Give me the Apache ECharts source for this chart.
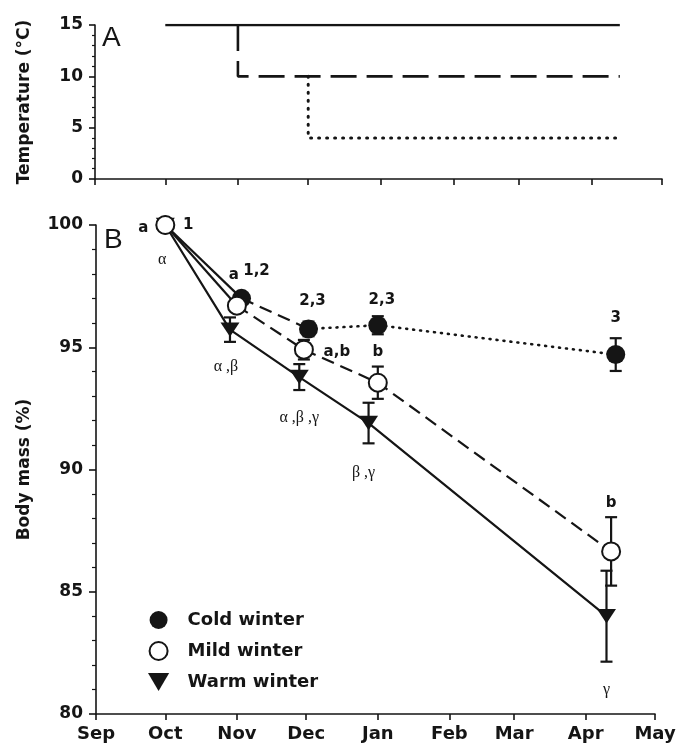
<!DOCTYPE html>
<html>
<head>
<meta charset="utf-8">
<script src="https://cdn.jsdelivr.net/npm/echarts@6/dist/echarts.min.js"></script>
<style>
html,body{margin:0;padding:0;background:#fff;}
#chart{width:691px;height:749px;}
</style>
</head>
<body>
<div id="chart"></div>
<script>
// ---- Axis ticks (days since Sep 1) ----
const monthLabels = ['Sep','Oct','Nov','Dec','Jan','Feb','Mar','Apr','May'];
const monthStartDays = [0, 30, 61, 91, 122, 153, 181, 212, 242];

// ---- Panel A: temperature regimes ----
const tempWarmDays = [30, 224];
const tempWarm = [15, 15];
const tempMildDays = [61, 61, 224];
const tempMild = [15, 10, 10];
const tempColdDays = [91, 91, 224];
const tempCold = [10, 4, 4];

// ---- Panel B: body mass (%) ----
const coldDays = [30, 63, 92, 122, 225];
const coldMass = [100, 97.0, 95.75, 95.9, 94.7];
const coldErr = [0, 0.2, 0.3, 0.37, 0.67];

const mildDays = [30, 61, 90, 122, 223];
const mildMass = [100, 96.7, 94.9, 93.55, 86.65];
const mildErr = [0, 0.2, 0.4, 0.66, 1.4];

const warmDays = [30, 58, 88, 118, 221];
const warmMass = [100, 95.72, 93.78, 91.9, 84.0];
const warmErr = [0, 0.5, 0.53, 0.83, 1.86];

// significance tags
const coldTags = ['1', '1,2', '2,3', '2,3', '3'];
const mildTags = ['a', 'a', 'a,b', 'b', 'b'];
const warmTags = ['\u03b1', '\u03b1 ,\u03b2', '\u03b1 ,\u03b2 ,\u03b3', '\u03b2 ,\u03b3', '\u03b3'];

// ---- layout / style (not data) ----
const coldTagOffsets = [[23, 0], [15, -27], [4, -28], [4, -25], [0, -36]];
const mildTagOffsets = [[-22, 3], [-3, -31], [33, 2], [0, -31], [0, -48]];
const warmTagOffsets = [[-3, 35], [-4, 37], [0, 41], [-5, 50], [0, 74]];

const INK = '#151515';
const SANS = '"DejaVu Sans", "Liberation Sans", sans-serif';
const SERIF = '"Liberation Serif", "DejaVu Serif", serif';
const downTri = 'path://M0,0L20,0L10,17Z';

function pairs(days, vals, from, to) {
  const out = [];
  for (let i = from; i <= to; i++) out.push([days[i], vals[i]]);
  return out;
}
function triples(days, vals, errs) {
  return days.map((d, i) => [d, vals[i], errs[i]]);
}

function lineSeries(data, type, xi, yi, width) {
  return {
    type: 'line', xAxisIndex: xi, yAxisIndex: yi, data: data,
    symbol: 'none', silent: true, z: 2, animation: false,
    lineStyle: { color: INK, width: width || 2, type: type, cap: (Array.isArray(type) && type[0] <= 1.5) ? 'round' : 'butt' }
  };
}

function errSeries(days, vals, errs) {
  return {
    type: 'custom', xAxisIndex: 1, yAxisIndex: 1, z: 3, silent: true, animation: false,
    data: triples(days, vals, errs),
    renderItem: function (params, api) {
      const x = api.value(0), y = api.value(1), e = api.value(2);
      if (!e) return null;
      const t = api.coord([x, y + e]);
      const b = api.coord([x, y - e]);
      const hw = 6;
      const st = { stroke: INK, lineWidth: 2.2 };
      return {
        type: 'group', children: [
          { type: 'line', shape: { x1: t[0], y1: t[1], x2: b[0], y2: b[1] }, style: st },
          { type: 'line', shape: { x1: t[0] - hw, y1: t[1], x2: t[0] + hw, y2: t[1] }, style: st },
          { type: 'line', shape: { x1: b[0] - hw, y1: b[1], x2: b[0] + hw, y2: b[1] }, style: st }
        ]
      };
    }
  };
}

function tagSeries(days, vals, tags, offsets, font) {
  return {
    type: 'custom', xAxisIndex: 1, yAxisIndex: 1, z: 5, silent: true, animation: false,
    data: days.map((d, i) => [d, vals[i]]),
    renderItem: function (params, api) {
      const p = api.coord([api.value(0), api.value(1)]);
      const o = offsets[params.dataIndex];
      return {
        type: 'text', x: p[0] + o[0], y: p[1] + o[1],
        style: { text: tags[params.dataIndex], font: font, fill: INK, align: 'center', verticalAlign: 'middle' }
      };
    }
  };
}

const chart = echarts.init(document.getElementById('chart'), null, { renderer: 'canvas' });

const axisLineStyle = { color: INK, width: 1.6 };

const option = {
  backgroundColor: '#fff',
  animation: false,
  grid: [
    { left: 95, top: 25, width: 567, height: 154 },
    { left: 96, top: 225, width: 559, height: 489 }
  ],
  xAxis: [
    {
      type: 'value', gridIndex: 0, min: 0, max: 242,
      axisLine: { show: true, lineStyle: axisLineStyle },
      axisTick: { show: true, customValues: monthStartDays, length: 6, lineStyle: axisLineStyle },
      axisLabel: { show: false },
      splitLine: { show: false }
    },
    {
      type: 'value', gridIndex: 1, min: 0, max: 242,
      axisLine: { show: true, lineStyle: axisLineStyle },
      axisTick: { show: true, customValues: monthStartDays, length: 6, lineStyle: axisLineStyle },
      axisLabel: {
        show: true, customValues: monthStartDays, margin: 11,
        formatter: function (v) { return monthLabels[monthStartDays.indexOf(v)]; },
        color: INK, fontFamily: SANS, fontWeight: 'bold', fontSize: 18
      },
      splitLine: { show: false }
    }
  ],
  yAxis: [
    {
      type: 'value', gridIndex: 0, min: 0, max: 15, interval: 5,
      name: 'Temperature (\u00b0C)', nameLocation: 'middle', nameGap: 62, nameRotate: 90,
      nameTextStyle: { color: INK, fontFamily: SANS, fontWeight: 'bold', fontSize: 17 },
      axisLine: { show: true, lineStyle: axisLineStyle },
      axisTick: { show: true, length: 6, lineStyle: axisLineStyle },
      minorTick: { show: true, splitNumber: 5, length: 3, lineStyle: { color: INK, width: 1.2 } },
      axisLabel: { color: INK, fontFamily: SANS, fontWeight: 'bold', fontSize: 17, margin: 12 },
      splitLine: { show: false }
    },
    {
      type: 'value', gridIndex: 1, min: 80, max: 100, interval: 5,
      name: 'Body mass (%)', nameLocation: 'middle', nameGap: 63, nameRotate: 90,
      nameTextStyle: { color: INK, fontFamily: SANS, fontWeight: 'bold', fontSize: 17 },
      axisLine: { show: true, lineStyle: axisLineStyle },
      axisTick: { show: true, length: 7, lineStyle: axisLineStyle },
      minorTick: { show: true, splitNumber: 5, length: 4, lineStyle: { color: INK, width: 1.2 } },
      axisLabel: { color: INK, fontFamily: SANS, fontWeight: 'bold', fontSize: 17, margin: 13 },
      splitLine: { show: false }
    }
  ],
  legend: {
    orient: 'vertical', left: 148, top: 611,
    itemWidth: 48, itemHeight: 18, itemGap: 12, padding: 0,
    selectedMode: false,
    data: ['Cold winter', 'Mild winter', 'Warm winter'],
    textStyle: { color: INK, fontFamily: SANS, fontWeight: 'bold', fontSize: 18 }
  },
  graphic: [
    { type: 'text', left: 102, top: 24, style: { text: 'A', font: '28px "Liberation Sans", Arial, sans-serif', fill: INK } },
    { type: 'text', left: 104, top: 226, style: { text: 'B', font: '28px "Liberation Sans", Arial, sans-serif', fill: INK } }
  ],
  series: [
    // Panel A
    lineSeries(pairs(tempWarmDays, tempWarm, 0, tempWarm.length - 1), 'solid', 0, 0, 2.6),
    lineSeries(pairs(tempMildDays, tempMild, 0, tempMild.length - 1), [26, 10], 0, 0, 2.6),
    lineSeries(pairs(tempColdDays, tempCold, 0, tempCold.length - 1), [1, 7], 0, 0, 3),
    // Panel B connecting lines
    lineSeries(pairs(warmDays, warmMass, 0, 4), 'solid', 1, 1, 2.2),
    lineSeries(pairs(mildDays, mildMass, 0, 1), 'solid', 1, 1, 2.2),
    lineSeries(pairs(mildDays, mildMass, 1, 4), [13, 7], 1, 1, 2.2),
    lineSeries(pairs(coldDays, coldMass, 0, 1), 'solid', 1, 1, 2.2),
    lineSeries(pairs(coldDays, coldMass, 1, 2), [13, 7], 1, 1, 2.2),
    lineSeries(pairs(coldDays, coldMass, 2, 4), [1, 6], 1, 1, 2.6),
    // error bars
    errSeries(warmDays, warmMass, warmErr),
    errSeries(coldDays, coldMass, coldErr),
    errSeries(mildDays, mildMass, mildErr),
    // markers
    {
      name: 'Warm winter', type: 'scatter', xAxisIndex: 1, yAxisIndex: 1, z: 4, animation: false,
      symbol: downTri, symbolSize: [19, 17], symbolKeepAspect: true,
      itemStyle: { color: INK, opacity: 1 },
      data: warmDays.map((d, i) => [d, warmMass[i]])
    },
    {
      name: 'Cold winter', type: 'scatter', xAxisIndex: 1, yAxisIndex: 1, z: 4, animation: false,
      symbol: 'circle', symbolSize: 19,
      itemStyle: { color: INK, opacity: 1 },
      data: coldDays.map((d, i) => [d, coldMass[i]])
    },
    {
      name: 'Mild winter', type: 'scatter', xAxisIndex: 1, yAxisIndex: 1, z: 4, animation: false,
      symbol: 'circle', symbolSize: 18,
      itemStyle: { color: '#fff', borderColor: INK, borderWidth: 2, opacity: 1 },
      data: mildDays.map((d, i) => [d, mildMass[i]])
    },
    // significance tags
    tagSeries(coldDays, coldMass, coldTags, coldTagOffsets, 'bold 15px ' + SANS),
    tagSeries(mildDays, mildMass, mildTags, mildTagOffsets, 'bold 15px ' + SANS),
    tagSeries(warmDays, warmMass, warmTags, warmTagOffsets, '16px ' + SERIF)
  ]
};

chart.setOption(option);
</script>
</body>
</html>
